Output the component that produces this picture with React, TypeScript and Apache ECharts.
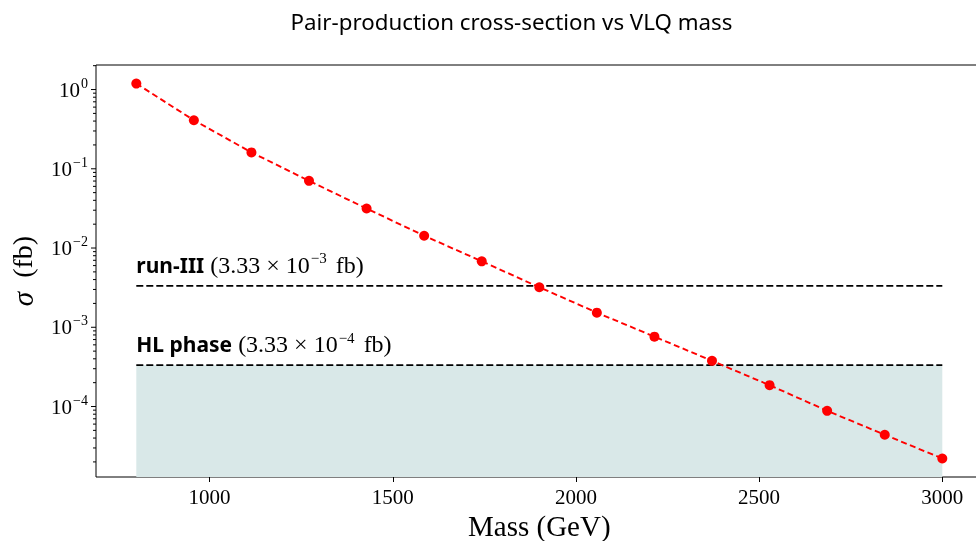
import React, { useEffect, useRef } from 'react';
import * as echarts from 'echarts';

// ---- data ----
const MASS = [800, 957.1, 1114.3, 1271.4, 1428.6, 1585.7, 1742.9, 1900, 2057.1, 2214.3, 2371.4, 2528.6, 2685.7, 2842.9, 3000];
const SIGMA = [1.19, 0.41, 0.161, 0.0705, 0.0315, 0.0143, 0.0068, 0.0032, 0.00153, 0.000762, 0.000377, 0.000186, 0.0000883, 0.000044, 0.0000221];
const X_TICKS = [1000, 1500, 2000, 2500, 3000];
const Y_EXPONENTS = [-5, -4, -3, -2, -1, 0];
const LIMIT_NAMES = ['run-III', 'HL phase'];
const LIMIT_VALUES = [3.33e-3, 3.33e-4];
const LIMIT_MANTISSA = ['3.33', '3.33'];
const LIMIT_EXPONENTS = ['−3', '−4'];
const TITLE = 'Pair-production cross-section vs VLQ mass';

const X_MIN = 690;
const X_MAX = 3110;
const Y_MIN = 1.29e-5;
const Y_MAX = 2.04;

const SERIF = '"Liberation Serif", "DejaVu Serif", serif';
const SANS = '"Noto Sans", "DejaVu Sans", sans-serif';

export default function App() {
  const ref = useRef<HTMLDivElement>(null);

  useEffect(() => {
    if (!ref.current) return;
    const chart = echarts.init(ref.current, null, { renderer: 'svg' });

    // y tick marks (major + minor) for log axis
    const yTickData: number[][] = [];
    Y_EXPONENTS.forEach((e) => {
      for (let m = 1; m <= 9; m++) {
        const v = m * Math.pow(10, e);
        if (v >= Y_MIN && v <= Y_MAX) yTickData.push([X_MIN, v, m === 1 ? 5 : 3]);
      }
    });

    const supFmt = (val: number) => {
      const e = val > 0 ? Math.round(Math.log10(val)) : Math.round(val);
      const s = e < 0 ? '−' + -e : String(e);
      return '{b|10}{s|' + s + '}';
    };

    chart.setOption({
      animation: false,
      grid: {
        left: 96,
        top: 65,
        bottom: 64,
        right: 7.4,
        outerBoundsMode: 'none',
        containLabel: false,
        show: true,
        borderColor: '#000',
        borderWidth: 1,
        backgroundColor: 'transparent',
      },
      xAxis: {
        type: 'value',
        min: X_MIN,
        max: X_MAX,
        name: 'Mass (GeV)',
        nameLocation: 'middle',
        nameGap: 33,
        nameTextStyle: { fontFamily: SERIF, fontSize: 29, color: '#000' },
        axisLine: { show: false },
        splitLine: { show: false },
        axisTick: { show: true, inside: false, length: 5, customValues: X_TICKS, lineStyle: { color: '#000', width: 1 } },
        axisLabel: {
          customValues: X_TICKS,
          margin: 9,
          fontFamily: SERIF,
          fontSize: 21,
          color: '#000',
          formatter: (v: number) => String(v),
        },
      },
      yAxis: {
        type: 'log',
        logBase: 10,
        min: Y_MIN,
        max: Y_MAX,
        name: '{i|σ}{r|  (fb)}',
        nameLocation: 'middle',
        nameRotate: 90,
        nameGap: 59,
        nameTextStyle: {
          rich: {
            i: { fontFamily: SERIF, fontStyle: 'italic', fontSize: 29, color: '#000' },
            r: { fontFamily: SERIF, fontSize: 28, color: '#000' },
          },
        },
        axisLine: { show: false },
        splitLine: { show: false },
        axisTick: { show: false },
        axisLabel: {
          showMinLabel: false,
          showMaxLabel: false,
          margin: 8,
          formatter: supFmt,
          rich: {
            b: { fontFamily: SERIF, fontSize: 21, color: '#000', lineHeight: 22 },
            s: { fontFamily: SERIF, fontSize: 14, color: '#000', lineHeight: 22, padding: [0, 0, 13, 1] },
          },
        },
      },
      series: [
        {
          type: 'custom',
          silent: true,
          clip: false,
          data: yTickData,
          encode: { x: 0, y: 1 },
          renderItem: (params: any, api: any) => {
            const p = api.coord([api.value(0), api.value(1)]);
            const len = api.value(2);
            return {
              type: 'line',
              shape: { x1: p[0] - len, y1: p[1], x2: p[0], y2: p[1] },
              style: { stroke: '#000', lineWidth: 1 },
            };
          },
          z: 5,
        },
        {
          type: 'line',
          name: LIMIT_NAMES[1],
          data: [[MASS[0], LIMIT_VALUES[1]], [MASS[MASS.length - 1], LIMIT_VALUES[1]]],
          symbol: 'none',
          lineStyle: { color: '#000', width: 1.9, type: [7, 3] },
          areaStyle: { origin: Y_MIN, color: '#d9e8e8', opacity: 1 },
          z: 2,
        },
        {
          type: 'line',
          name: LIMIT_NAMES[0],
          data: [[MASS[0], LIMIT_VALUES[0]], [MASS[MASS.length - 1], LIMIT_VALUES[0]]],
          symbol: 'none',
          lineStyle: { color: '#000', width: 1.9, type: [7, 3] },
          z: 2,
        },
        {
          type: 'line',
          name: 'sigma',
          data: MASS.map((m, i) => [m, SIGMA[i]]),
          symbol: 'circle',
          symbolSize: 10,
          itemStyle: { color: '#ff0000', borderWidth: 0 },
          lineStyle: { color: '#ff0000', width: 1.9, type: [6, 3.5] },
          z: 3,
        },
      ],
    });

    const labels = LIMIT_VALUES.map((v, i) => {
      const p = chart.convertToPixel({ gridIndex: 0 }, [MASS[0], v]) as number[];
      return {
        type: 'text',
        x: p[0],
        y: p[1] - 21,
        z: 10,
        style: {
          text: '{b|' + LIMIT_NAMES[i] + '}{r|(' + LIMIT_MANTISSA[i] + ' × 10}{s|' + LIMIT_EXPONENTS[i] + '}{r| fb)}',
          align: 'left',
          verticalAlign: 'middle',
          textAlign: 'left',
          textVerticalAlign: 'middle',
          rich: {
            b: { fontFamily: SANS, fontWeight: 'bold', fontSize: 21, fill: '#000', color: '#000', lineHeight: 24, padding: [0, 6, 0, 0] },
            r: { fontFamily: SERIF, fontSize: 24, fill: '#000', color: '#000', lineHeight: 25 },
            s: { fontFamily: SERIF, fontSize: 15, fill: '#000', color: '#000', lineHeight: 25, padding: [0, 3, 13, 1] },
          },
        },
      };
    });

    chart.setOption({
      graphic: [
        {
          type: 'text',
          x: 511.5,
          y: 21,
          style: {
            text: TITLE,
            fontFamily: SANS,
            fontSize: 22.3,
            fill: '#000',
            align: 'center',
            verticalAlign: 'middle',
            textAlign: 'center',
            textVerticalAlign: 'middle',
          },
        },
        ...labels,
      ],
    });

    return () => chart.dispose();
  }, []);

  return <div ref={ref} style={{ width: 990, height: 541, position: 'fixed', left: 0, top: 0 }} />;
}
